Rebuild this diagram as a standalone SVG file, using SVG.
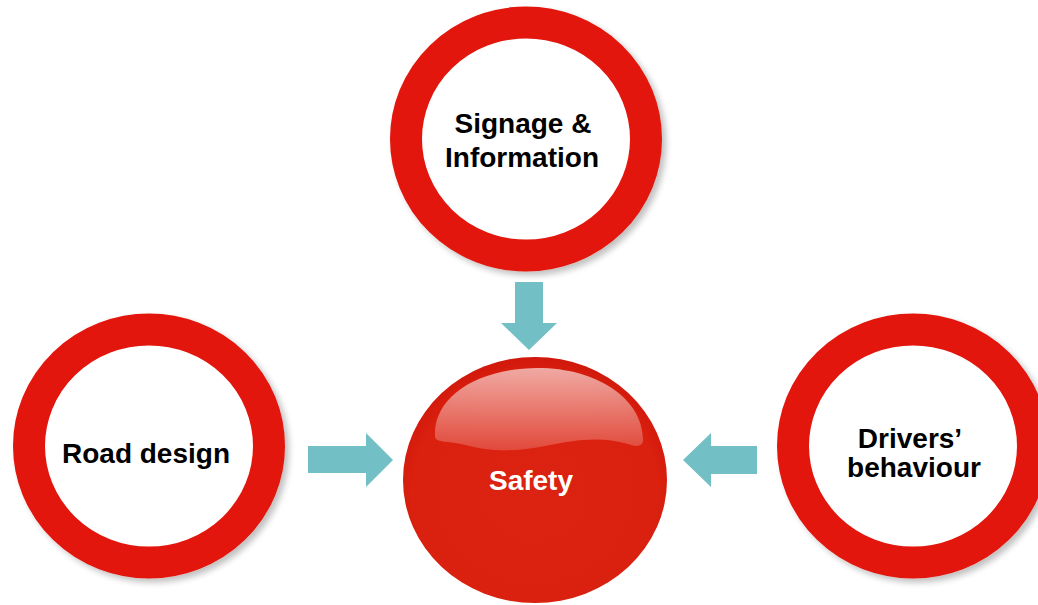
<svg xmlns="http://www.w3.org/2000/svg" width="1038" height="605" viewBox="0 0 1038 605">
  <defs>
    <filter id="shadow" x="-20%" y="-20%" width="150%" height="150%">
      <feGaussianBlur in="SourceAlpha" stdDeviation="3"/>
      <feOffset dx="4" dy="4" result="b"/>
      <feComponentTransfer><feFuncA type="linear" slope="0.25"/></feComponentTransfer>
      <feMerge><feMergeNode/><feMergeNode in="SourceGraphic"/></feMerge>
    </filter>
    <radialGradient id="sphereGrad" cx="0.5" cy="0.55" r="0.55">
      <stop offset="0" stop-color="#DC2210"/>
      <stop offset="0.85" stop-color="#DA200E"/>
      <stop offset="1" stop-color="#D0180C"/>
    </radialGradient>
    <linearGradient id="gloss" x1="0" y1="0" x2="0" y2="1">
      <stop offset="0" stop-color="#ffffff" stop-opacity="0.62"/>
      <stop offset="1" stop-color="#ffffff" stop-opacity="0.18"/>
    </linearGradient>
  </defs>
  <style>
    .ring { fill: #ffffff; stroke: #E2150B; stroke-width: 32; }
    .label { font-family: "Liberation Sans", Arial, sans-serif; font-weight: bold; font-size: 28px; fill: #000000; text-anchor: middle; }
    .white { fill: #ffffff; }
    .arrow { fill: #72BFC5; }
  </style>
  <rect width="1038" height="605" fill="#ffffff"/>

  <g id="connectors">
    <polygon class="arrow" points="515,282 543,282 543,323 557,323 529,350 501,323 515,323"/>
    <polygon class="arrow" points="308,446 366,446 366,433 393,460 366,487 366,473 308,473"/>
    <polygon class="arrow" points="757,446 711,446 711,433 683,460 711,487 711,474 757,474"/>
  </g>

  <g id="signage">
    <ellipse class="ring" cx="526" cy="139" rx="120" ry="116.5" filter="url(#shadow)"/>
    <text class="label" x="523" y="133">Signage &amp;</text>
    <text class="label" x="522" y="167">Information</text>
  </g>

  <g id="road-design">
    <ellipse class="ring" cx="149" cy="446" rx="120" ry="116.5" filter="url(#shadow)"/>
    <text class="label" x="146" y="463">Road design</text>
  </g>

  <g id="drivers-behaviour">
    <ellipse class="ring" cx="913" cy="446" rx="120" ry="116.5" filter="url(#shadow)"/>
    <text class="label" x="910" y="448">Drivers’</text>
    <text class="label" x="914" y="477">behaviour</text>
  </g>

  <g id="safety">
    <ellipse cx="535" cy="480" rx="132" ry="123" fill="url(#sphereGrad)"/>
    <path d="M435,437 C433,395 480,368 538,368 C596,368 643,398 643,440 C643,447 636,447 628,444 C600,436 575,440 545,446 C515,452 490,452 465,445 C450,441 436,443 435,437 Z" fill="url(#gloss)"/>
    <text class="label white" x="531" y="490">Safety</text>
  </g>
</svg>
